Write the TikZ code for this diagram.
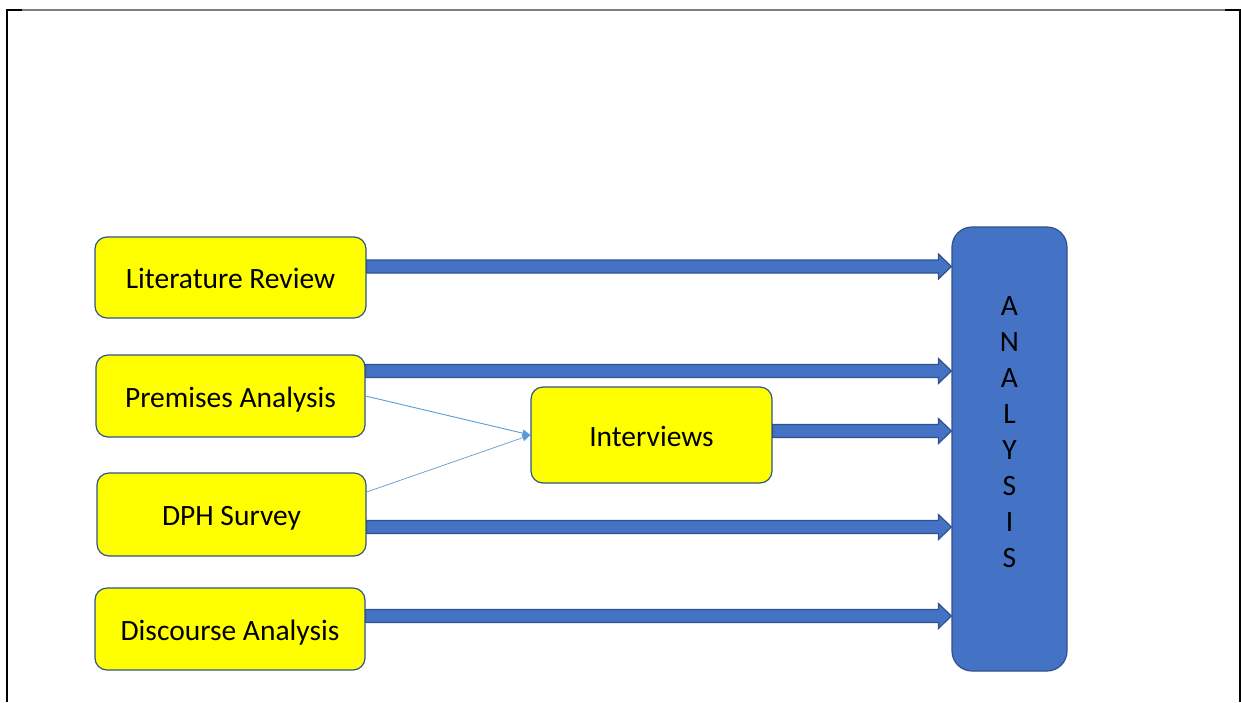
\documentclass[tikz,border=0pt]{standalone}
\usepackage{fontspec}
\setmainfont{Carlito}
\usetikzlibrary{arrows.meta,calc}
\definecolor{boxyellow}{HTML}{FFFF00}
\definecolor{accent}{HTML}{4472C4}
\definecolor{accentdark}{HTML}{2F528F}
\definecolor{thinblue}{HTML}{5B9BD5}

% Wide block arrow from the east side of node #1 to the west side of node #2,
% running at height #3 (measured downwards).
\newcommand\blockarrow[3]{%
  \path[blockarrowstyle] let \p1=(#1.east), \p2=(#2.west) in
    (\x1,{-#3pt+6.5pt}) -- (\x2-13pt,{-#3pt+6.5pt}) -- (\x2-13pt,{-#3pt+12.5pt})
    -- (\x2,{-#3pt}) -- (\x2-13pt,{-#3pt-12.5pt}) -- (\x2-13pt,{-#3pt-6.5pt})
    -- (\x1,{-#3pt-6.5pt}) -- cycle;}

\begin{document}
\begin{tikzpicture}[x=1pt,y=-1pt,
  source/.style={draw=accentdark, line width=1.2pt, fill=boxyellow,
    rounded corners=12pt, inner sep=0pt, text height=22pt, text depth=0pt,
    font=\fontsize{29.5}{36}\selectfont},
  target/.style={draw=accentdark, line width=1.2pt, fill=accent,
    rounded corners=20pt, inner sep=0pt},
  blockarrowstyle/.style={draw=accentdark, line width=1.2pt, fill=accent,
    line join=miter},
  thinarrow/.style={draw=thinblue, line width=0.9pt,
    -{Triangle[length=8pt,width=7pt]}},
  frameline/.style={line width=2pt}]

\useasboundingbox (0,0) rectangle (1241,702);

% outer frame
\draw[frameline, black] (7,702) -- (7,10) -- (22,10);
\draw[frameline, gray] (22,10) -- (1225,10);
\draw[frameline, black] (1225,10) -- (1240,10) -- (1240,702);

% sources
\node[source, minimum width=271pt, minimum height=81pt] (lit) at (230.5,277.5) {Literature Review};
\node[source, minimum width=269pt, minimum height=82pt] (prem) at (230.5,396) {Premises Analysis};
\node[source, minimum width=269pt, minimum height=83pt] (dph) at (231.5,514.5) {DPH Survey};
\node[source, minimum width=270pt, minimum height=82pt] (disc) at (230,629) {Discourse Analysis};
\node[source, minimum width=241pt, minimum height=96pt] (int) at (651.5,435) {Interviews};

% analysis column
\node[target, minimum width=115pt, minimum height=444pt] (ana) at (1009.5,449) {};
\node[align=center, inner sep=0pt, font=\fontsize{29.5}{36}\selectfont]
  (analabel) at ([yshift=16.5pt]ana.center) {A\\N\\A\\L\\Y\\S\\I\\S};

% thin arrows into the interviews
\draw[thinarrow] (prem.east) -- (int.west);
\draw[thinarrow, line width=0.7pt] ([yshift=22.5pt]dph.east) -- (int.west);

% block arrows into the analysis
\blockarrow{lit}{ana}{266.5}
\blockarrow{prem}{ana}{371}
\blockarrow{int}{ana}{431}
\blockarrow{dph}{ana}{527}
\blockarrow{disc}{ana}{616}

\end{tikzpicture}
\end{document}
